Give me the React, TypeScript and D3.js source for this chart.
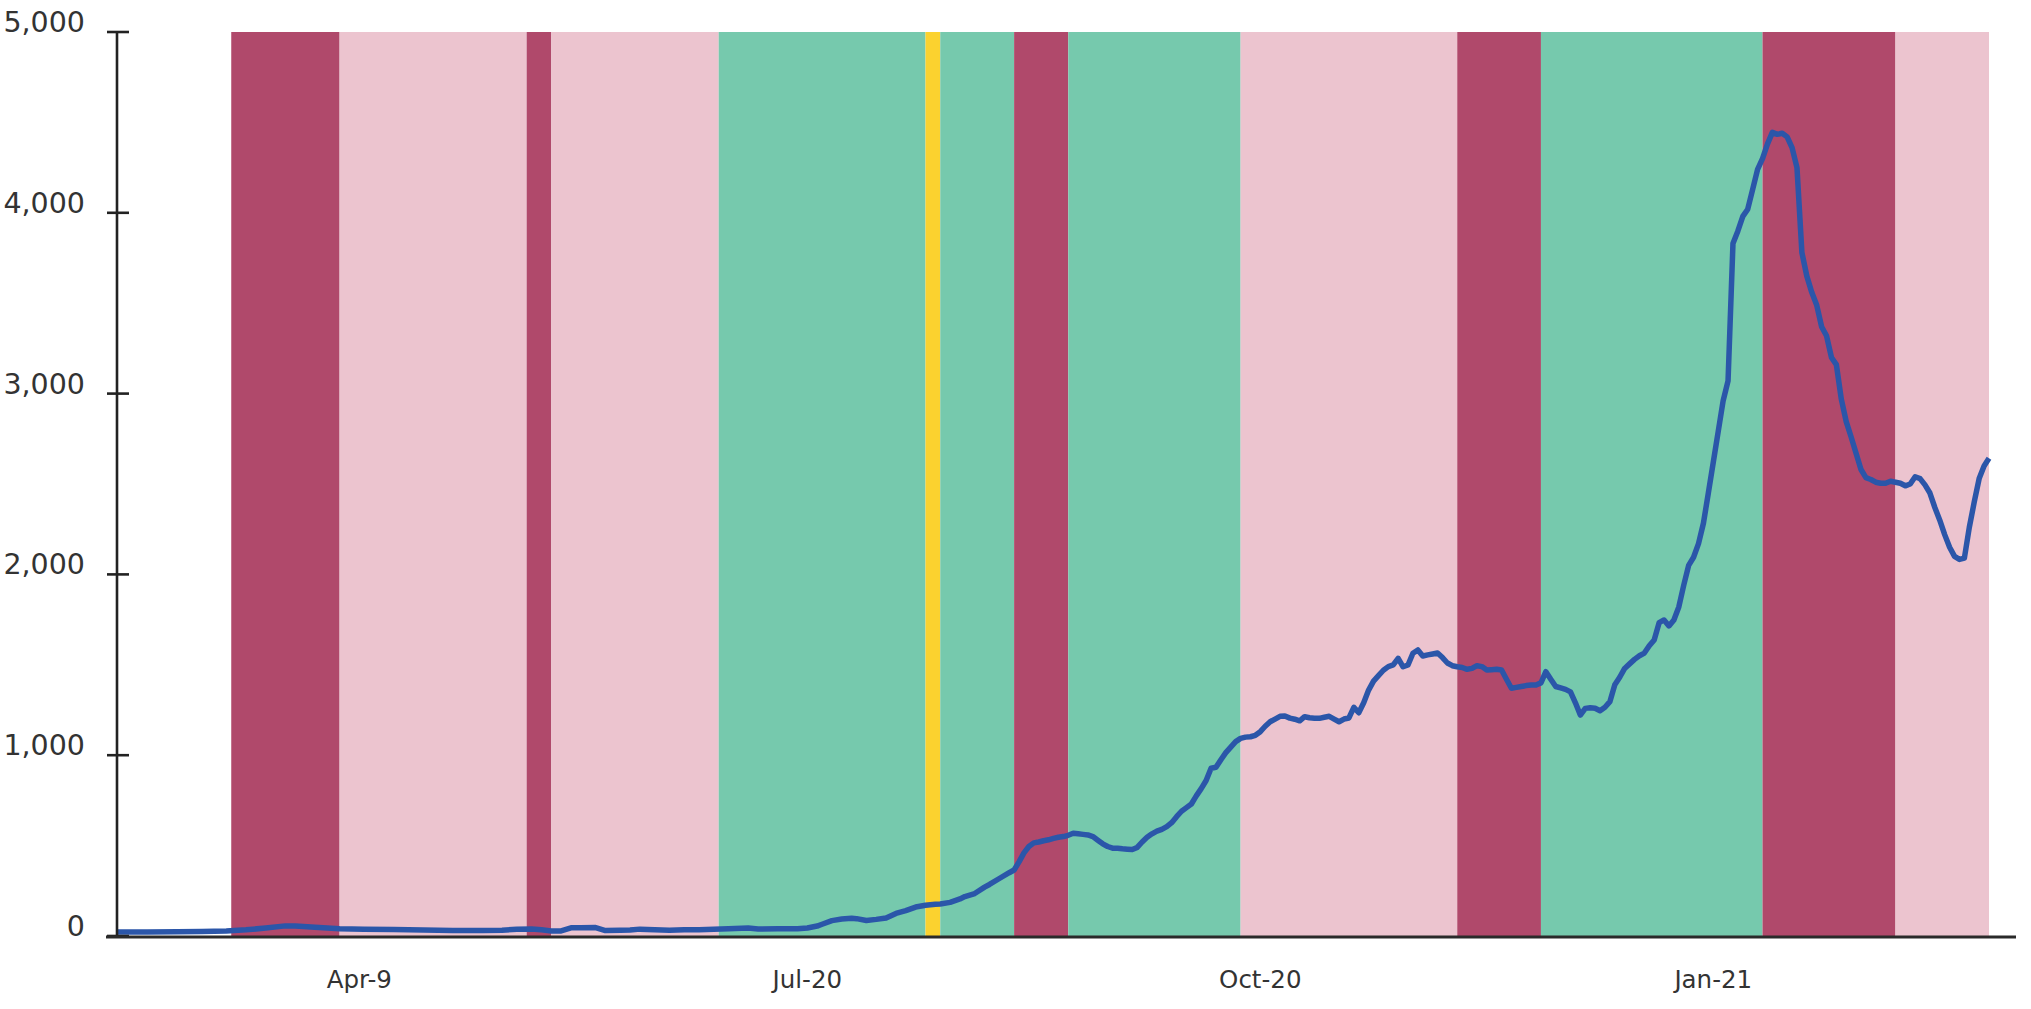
import React from "react";
import * as d3 from "d3";

// ---- data ----
const START_DATE = "2020-02-12";
const END_DATE = "2021-02-26";

// days since START_DATE
const dayOffsets = [
  0, 6, 12, 17, 22, 26, 30, 34, 36, 40, 45, 50, 56, 62, 68, 74, 78, 81, 84, 86,
  88, 90, 92, 94, 97, 99, 102, 104, 106, 109, 112, 115, 118, 121, 124, 128, 130, 134, 138, 140,
  142, 143, 145, 147, 149, 150, 152, 154, 156, 158, 160, 162, 164, 166, 167, 169, 171, 172, 174, 176,
  177, 179, 181, 182, 183, 184, 185, 186, 187, 188, 189, 190, 191, 192, 193, 194, 195, 196, 197, 198,
  199, 200, 201, 202, 203, 204, 205, 206, 207, 208, 209, 210, 211, 212, 213, 214, 215, 216, 217, 218,
  219, 220, 221, 222, 223, 224, 225, 226, 227, 228, 229, 230, 231, 232, 233, 234, 235, 236, 237, 238,
  239, 240, 241, 242, 243, 244, 245, 246, 247, 248, 249, 250, 251, 252, 253, 254, 255, 256, 257, 258,
  259, 260, 261, 262, 263, 264, 265, 266, 267, 268, 269, 270, 271, 272, 273, 274, 275, 276, 277, 278,
  279, 280, 281, 282, 283, 284, 285, 286, 287, 288, 289, 290, 291, 292, 293, 294, 295, 296, 297, 298,
  299, 300, 301, 302, 303, 304, 305, 306, 307, 308, 309, 310, 311, 312, 313, 314, 315, 316, 317, 318,
  319, 320, 321, 322, 323, 324, 325, 326, 327, 328, 329, 330, 331, 332, 333, 334, 335, 336, 337, 338,
  339, 340, 341, 342, 343, 344, 345, 346, 347, 348, 349, 350, 351, 352, 353, 354, 355, 356, 357, 358,
  359, 360, 361, 362, 363, 364, 365, 366, 367, 368, 369, 370, 371, 372, 373, 374, 375, 376, 377, 378,
  379, 380,
];

const values = [
  22, 22, 23, 25, 28, 34, 44, 56, 55, 48, 40, 38, 36, 33, 31, 30, 32, 37, 39, 34,
  28, 28, 45, 46, 47, 30, 32, 33, 38, 35, 32, 34, 35, 37, 40, 44, 39, 40, 40, 44,
  55, 65, 85, 94, 98, 96, 86, 92, 100, 125, 140, 160, 170, 176, 177, 186, 205, 218, 235, 270,
  285, 318, 350, 365, 410, 460, 495, 515, 520, 527, 532, 540, 546, 550, 557, 568, 565, 562, 559, 550,
  530, 510, 495, 486, 485, 482, 480, 478, 490, 520, 546, 565, 580, 590, 605, 627, 660, 690, 710, 730,
  775, 815, 860, 928, 933, 975, 1014, 1045, 1075, 1093, 1100, 1102, 1110, 1130, 1160, 1185, 1200, 1215, 1217, 1205,
  1199, 1190, 1213, 1207, 1205, 1204, 1210, 1215, 1200, 1185, 1200, 1206, 1265, 1235, 1290, 1360, 1410, 1440, 1470, 1490,
  1499, 1536, 1489, 1499, 1564, 1582, 1549, 1555, 1560, 1565, 1540, 1510, 1495, 1489, 1485, 1475, 1480, 1495, 1490, 1471,
  1473, 1475, 1471, 1420, 1370, 1375, 1380, 1385, 1388, 1388, 1400, 1462, 1420, 1380, 1372, 1364, 1350, 1290, 1222, 1259,
  1262, 1260, 1246, 1265, 1296, 1390, 1431, 1480, 1505, 1530, 1550, 1565, 1605, 1637, 1733, 1748, 1715, 1748, 1820, 1940,
  2050, 2095, 2170, 2283, 2450, 2620, 2790, 2960, 3070, 3830, 3900, 3980, 4020, 4130, 4240, 4300, 4380, 4445, 4434, 4440,
  4420, 4360, 4250, 3780, 3650, 3560, 3490, 3370, 3320, 3200, 3160, 2970, 2845, 2760, 2670, 2580, 2535, 2525, 2510, 2504,
  2504, 2515, 2510, 2504, 2490, 2500, 2540, 2530, 2495, 2450, 2370, 2300, 2220, 2150, 2100, 2083, 2090, 2260, 2400, 2530,
  2600, 2642,
];

// background periods
const bandStarts = [
  "2020-03-06", "2020-03-28", "2020-05-05", "2020-05-10", "2020-06-13", "2020-07-25", "2020-07-28",
  "2020-08-12", "2020-08-23", "2020-09-27", "2020-11-10", "2020-11-27", "2021-01-11", "2021-02-07",
];
const bandEnds = [
  "2020-03-28", "2020-05-05", "2020-05-10", "2020-06-13", "2020-07-25", "2020-07-28", "2020-08-12",
  "2020-08-23", "2020-09-27", "2020-11-10", "2020-11-27", "2021-01-11", "2021-02-07", "2021-02-26",
];
const bandTypes = [
  "strict", "partial", "strict", "partial", "open", "caution", "open",
  "strict", "open", "partial", "strict", "open", "strict", "partial",
];

const bandColors: Record<string, string> = {
  strict: "#B0496B",
  partial: "#ECC4CF",
  open: "#76C9AD",
  caution: "#FBD22F",
};

const xTickDates = ["2020-04-01", "2020-07-01", "2020-10-01", "2021-01-01"];
const xTickLabels = ["Apr-9", "Jul-20", "Oct-20", "Jan-21"];
const yTicks = [0, 1000, 2000, 3000, 4000, 5000];

// ---- chart ----
const W = 2031;
const H = 1009;

const parse = d3.utcParse("%Y-%m-%d");

export default function App() {
  React.useEffect(() => {
    document.body.style.margin = "0";
    document.body.style.overflow = "hidden";
  }, []);

  const start = parse(START_DATE) as Date;
  const end = parse(END_DATE) as Date;

  const x = d3.scaleUtc().domain([start, end]).range([118, 1989]);
  const y = d3.scaleLinear().domain([0, 5000]).range([936, 32]);

  const points = dayOffsets.map((d, i) => ({ date: d3.utcDay.offset(start, d), v: values[i] }));
  const line = d3
    .line<{ date: Date; v: number }>()
    .x((p) => x(p.date))
    .y((p) => y(p.v));

  const fmt = d3.format(",");
  const font = "'DejaVu Sans', sans-serif";

  return (
    <svg
      width={W}
      height={H}
      style={{ position: "absolute", left: 0, top: 0, background: "#fff" }}
    >
      {bandStarts.map((s, i) => {
        const x0 = x(parse(s) as Date);
        const x1 = x(parse(bandEnds[i]) as Date);
        return (
          <rect
            key={i}
            x={x0}
            y={y(5000)}
            width={x1 - x0}
            height={y(0) - y(5000)}
            fill={bandColors[bandTypes[i]]}
          />
        );
      })}

      <path d={line(points) || ""} fill="none" stroke="#2B56A9" strokeWidth={5.5} strokeLinejoin="round" />

      {/* y axis */}
      <line x1={117} x2={117} y1={y(5000)} y2={937} stroke="#222" strokeWidth={2.6} />
      {yTicks.map((t) => (
        <g key={t}>
          <line x1={107} x2={129} y1={y(t)} y2={y(t)} stroke="#222" strokeWidth={2.6} />
          <text
            x={85}
            y={y(t)}
            textAnchor="end"
            fontFamily={font}
            fontSize={28.5}
            fill="#333"
          >
            {fmt(t)}
          </text>
        </g>
      ))}

      {/* x axis */}
      <line x1={106} x2={2016} y1={937} y2={937} stroke="#2a2a2a" strokeWidth={3} />
      {xTickDates.map((d, i) => (
        <text
          key={d}
          x={x(parse(d) as Date)}
          y={988}
          textAnchor="middle"
          fontFamily={font}
          fontSize={24.5}
          fill="#333"
        >
          {xTickLabels[i]}
        </text>
      ))}
    </svg>
  );
}
